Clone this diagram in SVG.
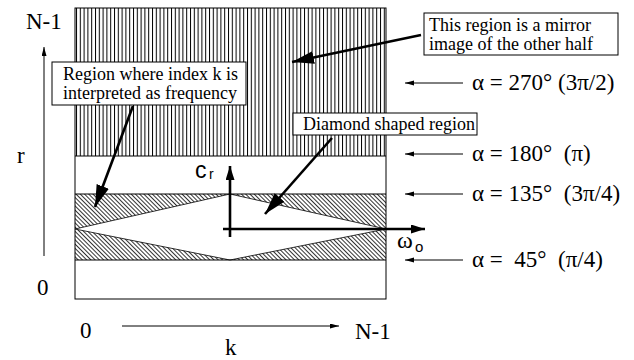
<svg xmlns="http://www.w3.org/2000/svg" width="634" height="360" viewBox="0 0 634 360">
<style>
.serif{font-family:"Liberation Serif","Times New Roman",serif;fill:#000}
.sans{font-family:"Liberation Sans",Arial,sans-serif;fill:#000}
.big{font-size:23px}
.lbl{font-size:18px}
.thin{stroke:#000;stroke-width:1;fill:none}
.thick{stroke:#000;stroke-width:2.6;fill:none}
.box{fill:#fff;stroke:#000;stroke-width:1}
</style>
<defs>
<pattern id="vhatch" patternUnits="userSpaceOnUse" width="3.8" height="10">
<line x1="0.5" y1="0" x2="0.5" y2="10" stroke="#000" stroke-width="1"/>
</pattern>
<pattern id="dhatch" patternUnits="userSpaceOnUse" width="3" height="10" patternTransform="rotate(-45)">
<line x1="0.5" y1="0" x2="0.5" y2="10" stroke="#000" stroke-width="0.8"/>
</pattern>
<marker id="bigHead" markerUnits="userSpaceOnUse" markerWidth="24" markerHeight="14" refX="22" refY="6.5" orient="auto">
<path d="M0,0 L22,6.5 L0,13 Z" fill="#000"/>
</marker>
<marker id="midHead" markerUnits="userSpaceOnUse" markerWidth="16" markerHeight="10" refX="14" refY="4.5" orient="auto">
<path d="M0,0 L14,4.5 L0,9 Z" fill="#000"/>
</marker>
<marker id="smallHead" markerUnits="userSpaceOnUse" markerWidth="10" markerHeight="6" refX="9" refY="2.5" orient="auto">
<path d="M0,0 L9,2.5 L0,5 Z" fill="#000"/>
</marker>
</defs>

<g id="plane">
<rect x="75" y="8" width="311" height="291" fill="#fff" stroke="none"/>
<rect x="75" y="8" width="311" height="148" fill="url(#vhatch)" stroke="none"/>
<rect x="75" y="194" width="311" height="66" fill="url(#dhatch)" stroke="none"/>
<polygon points="75,229 230,194 386,229 230,260" fill="#fff" stroke="#000" stroke-width="0.8"/>
<line x1="75" y1="156" x2="386" y2="156" class="thin"/>
<line x1="75" y1="194" x2="386" y2="194" class="thin"/>
<line x1="75" y1="260" x2="386" y2="260" class="thin"/>
<rect x="75" y="8" width="311" height="291" class="thin"/>
</g>

<g id="axes">
<line x1="230" y1="237" x2="230" y2="166" class="thick" marker-end="url(#midHead)"/>
<line x1="223" y1="229" x2="425" y2="229" class="thick" marker-end="url(#midHead)"/>
<text class="sans" x="195" y="178" font-size="23">c</text>
<text class="sans" x="209" y="179" font-size="14">r</text>
<text class="serif" x="397" y="248" font-size="24">ω</text>
<text class="sans" x="415" y="252" font-size="15">o</text>
</g>

<g id="r-axis">
<line x1="44" y1="256" x2="44" y2="47" class="thin" marker-end="url(#smallHead)"/>
<text class="serif big" x="26" y="29">N-1</text>
<text class="serif big" x="17" y="163">r</text>
<text class="serif big" x="37" y="295">0</text>
</g>

<g id="k-axis">
<line x1="122" y1="326" x2="339" y2="326" class="thin" marker-end="url(#smallHead)"/>
<text class="serif big" x="80" y="338">0</text>
<text class="serif big" x="355" y="339">N-1</text>
<text class="serif big" x="225" y="355">k</text>
</g>

<g id="alpha-labels">
<line x1="463" y1="83" x2="405" y2="83" class="thin" marker-end="url(#smallHead)"/>
<text class="serif big" x="472" y="90" xml:space="preserve">α = 270° (3π/2)</text>
<line x1="463" y1="154" x2="405" y2="154" class="thin" marker-end="url(#smallHead)"/>
<text class="serif big" x="472" y="161" xml:space="preserve">α = 180°  (π)</text>
<line x1="463" y1="194" x2="405" y2="194" class="thin" marker-end="url(#smallHead)"/>
<text class="serif big" x="472" y="201" xml:space="preserve">α = 135°  (3π/4)</text>
<line x1="463" y1="260" x2="405" y2="260" class="thin" marker-end="url(#smallHead)"/>
<text class="serif big" x="472" y="267" xml:space="preserve">α =  45°  (π/4)</text>
</g>

<g id="connectors">
<line x1="421" y1="35" x2="292" y2="62" class="thick" marker-end="url(#bigHead)"/>
<line x1="133" y1="106" x2="95" y2="207" class="thick" marker-end="url(#bigHead)"/>
<line x1="332" y1="138" x2="265" y2="214" class="thick" marker-end="url(#bigHead)"/>
</g>

<g id="note-mirror">
<rect x="424" y="13" width="194" height="42" class="box"/>
<text class="serif lbl" x="429" y="31">This region is a mirror</text>
<text class="serif lbl" x="429" y="50">image of the other half</text>
</g>

<g id="note-frequency">
<rect x="52" y="62" width="194" height="43" class="box"/>
<text class="serif lbl" x="63" y="80">Region where index k is</text>
<text class="serif lbl" x="63" y="99">interpreted as frequency</text>
</g>

<g id="note-diamond">
<rect x="293" y="113" width="184" height="22" class="box"/>
<text class="serif lbl" x="303" y="130">Diamond shaped region</text>
</g>
</svg>
